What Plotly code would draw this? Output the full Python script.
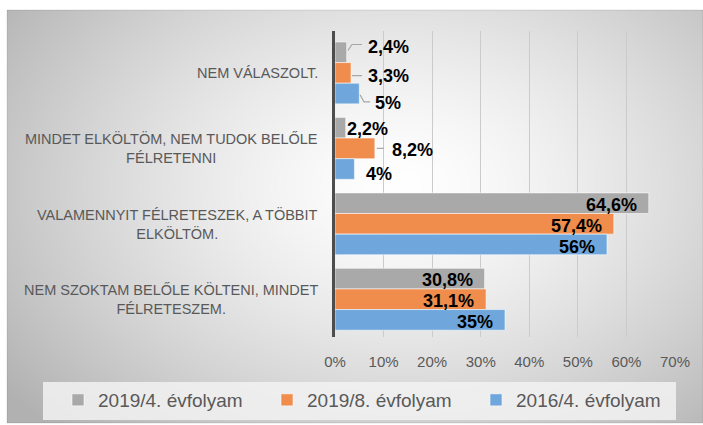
import base64, struct, zlib
import numpy as np
import plotly.graph_objects as go

# ---------------- data ----------------
categories = [
    "NEM VÁLASZOLT.",
    "MINDET ELKÖLTÖM, NEM TUDOK BELŐLE<br>FÉLRETENNI",
    "VALAMENNYIT FÉLRETESZEK, A TÖBBIT<br>ELKÖLTÖM.",
    "NEM SZOKTAM BELŐLE KÖLTENI, MINDET<br>FÉLRETESZEM.",
]
series_names = ["2019/4. évfolyam", "2019/8. évfolyam", "2016/4. évfolyam"]
values_2019_4 = [2.4, 2.2, 64.6, 30.8]
values_2019_8 = [3.3, 8.2, 57.4, 31.1]
values_2016_4 = [5, 4, 56, 35]
tick_values = [0, 10, 20, 30, 40, 50, 60, 70]
tick_labels = ["0%", "10%", "20%", "30%", "40%", "50%", "60%", "70%"]

series_values = [values_2019_4, values_2019_8, values_2016_4]
colors = ["#A9A9A9", "#F08C4C", "#6FA7DC"]

# ---------------- geometry ----------------
W, H = 703, 425
ML, MR, MT, MB = 335, 28, 31, 88
PW, PH = W - ML - MR, H - MT - MB


def px2x(px):
    return (px - ML) / PW


def py2y(py):
    return (MT + PH - py) / PH


def label_text(v):
    return "<b>" + ("%g" % v).replace(".", ",") + "%</b>"


# ---------------- background gradient image ----------------
fx0, fy0, fx1, fy1 = 7, 10, 703, 423
gw, gh = fx1 - fx0, fy1 - fy0
xs = np.arange(gw)[None, :] + fx0
ys = np.arange(gh)[:, None] + fy0
cx, cy, rx, ry = 400, 185, 430, 300
d = np.sqrt(((xs - cx) / rx) ** 2 + ((ys - cy) / ry) ** 2)
d = np.clip(d, 0, 1.15)
val = 255 - 64 * (d ** 1.4)
val = np.clip(val, 0, 255).astype(np.uint8)
img = np.stack([val, val, val], axis=2)


def png_uri(arr):
    h, w, _ = arr.shape
    raw = b"".join(b"\x00" + arr[i].tobytes() for i in range(h))

    def chunk(t, data):
        return struct.pack(">I", len(data)) + t + data + struct.pack(">I", zlib.crc32(t + data) & 0xFFFFFFFF)

    png = b"\x89PNG\r\n\x1a\n" + chunk(b"IHDR", struct.pack(">IIBBBBB", w, h, 8, 2, 0, 0, 0)) \
        + chunk(b"IDAT", zlib.compress(raw, 9)) + chunk(b"IEND", b"")
    return "data:image/png;base64," + base64.b64encode(png).decode()


fig = go.Figure()

for name, vals, col in zip(series_names, series_values, colors):
    fig.add_trace(go.Bar(
        y=categories, x=vals, name=name, orientation="h",
        marker=dict(color=col, line=dict(color="rgba(255,255,255,0.55)", width=1)),
        hoverinfo="x+name",
    ))

BAND = PH / len(categories)
BAR = BAND * 0.82 / 3
bar_off = [-BAR, 0, BAR]  # screen offsets (down positive) for each series within a group

LBL_FONT = dict(family="Liberation Sans, Arial, sans-serif", size=18, color="#000000")

# outside labels (small values): (series, category) -> (dx from bar end, dy from bar centre)
outside = {
    (0, 0): (21, -5.5), (1, 0): (17, 3), (2, 0): (16, 9),
    (0, 1): (1, 2), (1, 1): (17, 2), (2, 1): (12, 5),
}
leaders = {
    (0, 0): [(1.3, -1.5), (5.3, -7.5), (15.3, -7.5)],
    (1, 0): [(1.0, 2.7), (11.0, 2.7)],
    (2, 0): [(0.7, 1.0), (4.7, 8.0), (10.7, 8.0)],
    (1, 1): [(2.0, 0.0), (9.0, 0.0)],
}

annotations = []
shapes = []
for s, vals in enumerate(series_values):
    for c, v in enumerate(vals):
        txt = label_text(v)
        if (s, c) in outside:
            dx, dy = outside[(s, c)]
            annotations.append(dict(
                x=v, y=c, xref="x", yref="y", text=txt, showarrow=False,
                xanchor="left", yanchor="middle", xshift=dx - 2, yshift=-(bar_off[s] + dy),
                font=LBL_FONT))
        else:
            annotations.append(dict(
                x=v, y=c, xref="x", yref="y", text=txt, showarrow=False,
                xanchor="right", yanchor="middle", xshift=-10, yshift=-(bar_off[s] + 2),
                font=LBL_FONT))
        if (s, c) in leaders:
            pts = leaders[(s, c)]
            path = "M " + " L ".join("%.1f,%.1f" % (px, -(bar_off[s] + py)) for px, py in pts)
            shapes.append(dict(
                type="path", xref="x", yref="y", xsizemode="pixel", ysizemode="pixel",
                xanchor=v, yanchor=c, path=path,
                line=dict(color="#A6A6A6", width=1.2)))

# category labels (centered multi-line text to the left of the axis)
for c, cat in enumerate(categories):
    annotations.append(dict(
        x=0, y=c, xref="paper", yref="y", text=cat, showarrow=False,
        xanchor="right", yanchor="middle", align="center", xshift=-15,
        font=dict(family="Liberation Sans, Arial, sans-serif", size=14.5, color="#595959")))

# background frame, legend box
shapes.insert(0, dict(type="rect", xref="paper", yref="paper", layer="below",
                      x0=px2x(fx0), x1=px2x(fx1), y0=py2y(fy1), y1=py2y(fy0),
                      line=dict(color="rgba(0,0,0,0.10)", width=1), fillcolor="rgba(0,0,0,0)"))
shapes.insert(1, dict(type="rect", xref="paper", yref="paper", layer="below",
                      x0=px2x(43), x1=px2x(676), y0=py2y(420), y1=py2y(382),
                      line=dict(width=0), fillcolor="rgba(242,242,242,0.85)"))

fig.update_layout(
    width=W, height=H,
    margin=dict(l=ML, r=MR, t=MT, b=MB, pad=0, autoexpand=False),
    paper_bgcolor="white", plot_bgcolor="rgba(0,0,0,0)",
    barmode="group", bargap=0.18, bargroupgap=0,
    showlegend=True,
    legend=dict(orientation="h", x=px2x(58), xanchor="left", y=py2y(400), yanchor="middle",
                bgcolor="rgba(0,0,0,0)", traceorder="normal",
                font=dict(family="Liberation Sans, Arial, sans-serif", size=19, color="#595959"),
                entrywidth=164, entrywidthmode="pixels"),
    xaxis=dict(range=[0, 70], tickvals=tick_values, ticktext=tick_labels,
               showgrid=True, gridcolor="#CBCBCB", gridwidth=1, zeroline=False,
               showline=False, ticks="outside", ticklen=11, tickcolor="rgba(0,0,0,0)",
               tickfont=dict(family="Liberation Sans, Arial, sans-serif", size=15, color="#595959")),
    yaxis=dict(categoryorder="array", categoryarray=categories, autorange="reversed",
               showticklabels=False, showgrid=False, zeroline=False,
               showline=True, linecolor="#4D4D4D", linewidth=3, ticks=""),
    annotations=annotations,
    shapes=shapes,
    images=[dict(source=png_uri(img), xref="paper", yref="paper",
                 x=px2x(fx0), y=py2y(fy0), sizex=px2x(fx1) - px2x(fx0), sizey=py2y(fy0) - py2y(fy1),
                 xanchor="left", yanchor="top", sizing="stretch", layer="below")],
)

fig.write_html("out.html", config={"displayModeBar": False},
               post_script="document.body.style.margin='0px';")
